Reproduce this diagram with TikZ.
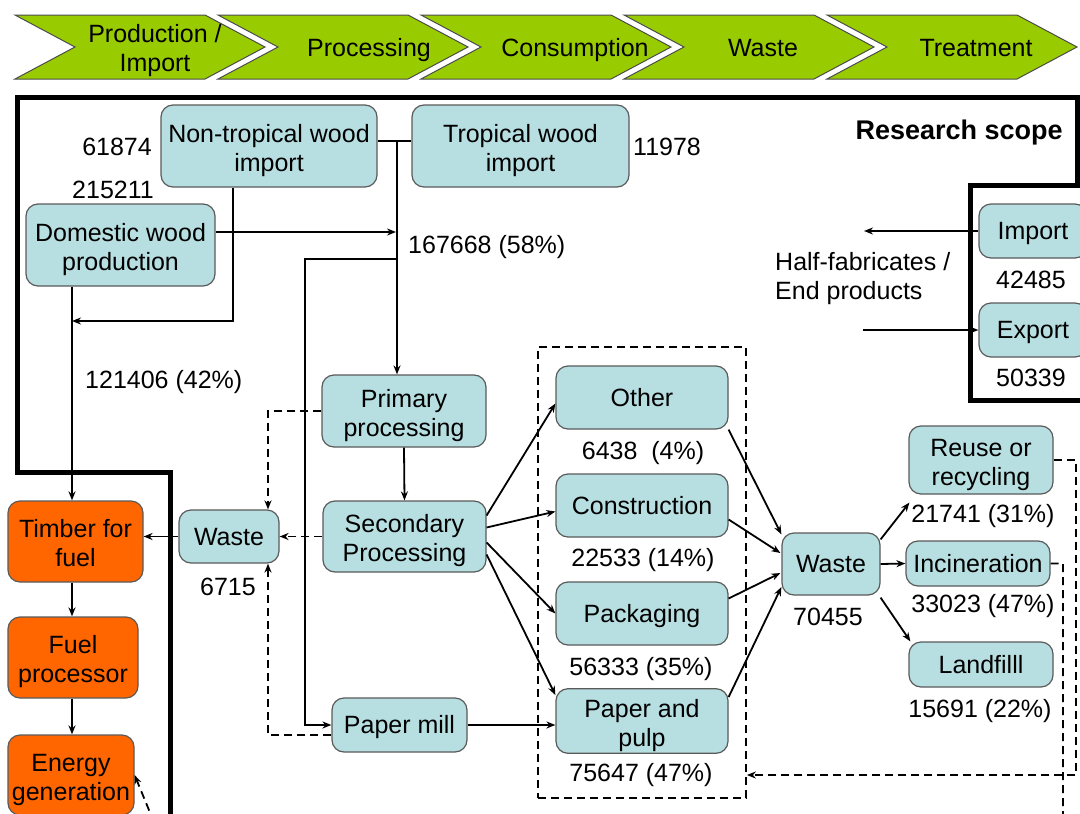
\documentclass[tikz,border=0pt]{standalone}
\usepackage{fontspec}
\setmainfont{Liberation Sans}
\usetikzlibrary{arrows.meta,calc}
\definecolor{chev}{HTML}{99CC00}
\definecolor{boxfill}{HTML}{B7DFE1}
\definecolor{fuelfill}{HTML}{FF6600}
\definecolor{boxline}{HTML}{5A5A5A}
% line box of the font: ascent 0.905em, descent 0.212em
\newcommand\linestrut{\rule[-0.212em]{0pt}{1.117em}}

\begin{document}
\begin{tikzpicture}[x=1pt,y=-1pt,
  every node/.style={font=\fontsize{25}{30}\selectfont, inner sep=2pt,
    execute at begin node=\linestrut, execute at end node=\linestrut},
  two/.style={align=center, font=\fontsize{25}{29}\selectfont, text height=55.3pt, text depth=5.3pt},
  blk/.style={draw=boxline, line width=1.2pt, rounded corners=12pt, fill=boxfill, align=center},
  fuelbox/.style={blk, fill=fuelfill},
  ln/.style={line width=1.8pt},
  arr/.style={ln, -{Stealth[length=9pt,width=7pt]}},
  darr/.style={arr, dash pattern=on 8pt off 5pt},
  scopeline/.style={line width=5pt, line join=miter},
  phase/.style={fill=chev, draw=black!70, line width=1pt}
]
\useasboundingbox (0,0) rectangle (1080,814);
\clip (0,0) rectangle (1080,814);
\fill[white] (0,0) rectangle (1080,814);

% life-cycle phases
\foreach \s in {15,218,421,624,827}
  \draw[phase] (\s,15) -- ++(190,0) -- ++(60,32) -- ++(-60,32) -- ++(-190,0) -- ++(60,-32) -- cycle;
\node[two] (ph1) at (155,46) {Production /\\Import};
\node (ph2) at (369,48) {Processing};
\node (ph3) at (575,48) {Consumption};
\node (ph4) at (763,48) {Waste};
\node (ph5) at (976,48) {Treatment};

% research scope border
\draw[scopeline] (1090,400) -- (970,400) -- (970,185) -- (1077,185) -- (1077,97) -- (17,97)
  -- (17,472) -- (170,472) -- (170,816) -- (1090,816);

% boxes
\node[blk, two, minimum width=216pt, minimum height=82pt] (ntw) at (269,146) {Non-tropical wood\\import};
\node[blk, two, minimum width=217pt, minimum height=82pt] (tw) at (520.5,146) {Tropical wood\\import};
\node[blk, two, minimum width=189pt, minimum height=82pt] (dom) at (120.5,245) {Domestic wood\\production};
\node[blk, two, minimum width=164pt, minimum height=72pt] (prim) at (404,411) {Primary\\processing};
\node[blk, two, minimum width=163pt, minimum height=71pt] (sec) at (404.5,536.5) {Secondary\\Processing};
\node[blk, minimum width=135pt, minimum height=54pt] (pmill) at (399.5,725) {Paper mill};
\node[blk, minimum width=100pt, minimum height=53pt] (wl) at (229,536.5) {Waste};
\node[fuelbox, two, minimum width=135pt, minimum height=81pt] (timber) at (75.5,541.5) {Timber for\\fuel};
\node[fuelbox, two, minimum width=130pt, minimum height=81pt] (fuel) at (73,657.5) {Fuel\\processor};
\node[fuelbox, two, minimum width=126pt, minimum height=80pt] (energy) at (71,775) {Energy\\generation};
\node[draw, ln, dash pattern=on 8pt off 5pt, minimum width=208pt, minimum height=451pt, inner sep=0pt] (cons) at (642,572.5) {};
\node[blk, minimum width=172pt, minimum height=63pt] (other) at (642,397.5) {Other};
\node[blk, minimum width=172pt, minimum height=63pt] (constr) at (642,505.5) {Construction};
\node[blk, minimum width=172pt, minimum height=63pt] (pack) at (642,613.5) {Packaging};
\node[blk, two, minimum width=172pt, minimum height=64pt] (pulp) at (642,721) {Paper and\\pulp};
\node[blk, minimum width=98pt, minimum height=62pt] (wr) at (831,564) {Waste};
\node[blk, two, minimum width=144pt, minimum height=68pt] (reuse) at (981,460) {Reuse or\\recycling};
\node[blk, minimum width=144pt, minimum height=45pt] (incin) at (978,563.5) {Incineration};
\node[blk, minimum width=144pt, minimum height=45pt] (land) at (981,664.5) {Landfilll};
\node[blk, minimum width=108pt, minimum height=54pt] (imp) at (1033,231) {Import};
\node[blk, minimum width=108pt, minimum height=54pt] (exp) at (1033,330) {Export};

% quantities
\node[anchor=east] (q1) at (154,147) {61874};
\node[anchor=east] (q2) at (156,190) {215211};
\node[anchor=west] (q3) at (631,147) {11978};
\node[anchor=west] (q4) at (406,245) {167668 (58\%)};
\node[anchor=west] (q5) at (83,380) {121406 (42\%)};
\node (q6) at (228,587) {6715};
\node (q7) at (643,451) {6438\ \ (4\%)};
\node (q8) at (643,558) {22533 (14\%)};
\node (q9) at (641,667) {56333 (35\%)};
\node (q10) at (641,773) {75647 (47\%)};
\node (q11) at (828,617) {70455};
\node (q12) at (983,514) {21741 (31\%)};
\node (q13) at (983,604) {33023 (47\%)};
\node (q14) at (980,709) {15691 (22\%)};
\node (q15) at (1031,280) {42485};
\node (q16) at (1031,378) {50339};
\node[two, anchor=west, align=left] (hf) at (773,274) {Half-fabricates /\\End products};
\node[anchor=east, font=\fontsize{27}{32}\selectfont\bfseries] (rs) at (1065,130) {Research scope};

% roundwood supply
\coordinate (jn) at (397,141);
\draw[ln] (ntw.east |- jn) -- (tw.west |- jn);
\draw[arr] (jn) -- (jn |- prim.north);
\coordinate (dj) at (396,232);
\draw[arr] (dom.east |- dj) -- (dj);
\coordinate (nd) at (233,321);
\coordinate (dd) at (72,321);
\draw[arr] (ntw.south -| nd) -- (nd) -- (dd);
\draw[arr] (dom.south -| dd) -- (timber.north -| dd);
\coordinate (pj) at (397,259);
\coordinate (pc) at (305,259);
\draw[arr] (pj) -- (pc) -- (pc |- pmill.west) -- (pmill.west);

% processing
\draw[arr] (prim.south) -- (sec.north);
\coordinate (wx) at (268,0);
\draw[darr] (prim.west) -| (wx |- wl.north);
\draw[darr] (sec.west) -- (wl.east);
\draw[darr] ($(pmill.south west)+(0,-18)$) -| (wx |- wl.south);
\draw[arr] (wl.west) -- (wl.west -| timber.east);
\draw[arr] (timber.south -| dd) -- (fuel.north -| dd);
\draw[arr] (fuel.south -| dd) -- (energy.north -| dd);

% consumption
\draw[arr] ($(sec.east)+(0,-21)$) -- ($(other.west)+(0,6)$);
\draw[arr] ($(sec.east)+(0,-9)$) -- ($(constr.west)+(0,6)$);
\draw[arr] ($(sec.east)+(0,6)$) -- (pack.west);
\draw[arr] ($(sec.east)+(0,18)$) -- ($(pulp.north west)+(0,7)$);
\draw[arr] (pmill.east) -- (pmill.east -| pulp.west);

% waste
\draw[arr] (other.south east) -- ($(wr.north west)+(0,2)$);
\draw[arr] ($(constr.east)+(0,14)$) -- ($(wr.west)+(-1,-11)$);
\draw[arr] ($(pack.east)+(0,-15)$) -- ($(wr.west)+(-1,9)$);
\draw[arr] ($(pulp.north east)+(0,9)$) -- ($(wr.west)+(0,23)$);

% treatment
\draw[arr] ($(wr.north east)+(0,7)$) -- ($(reuse.south west)+(1,8)$);
\draw[arr] (wr.east) -- (incin.west);
\draw[arr] ($(wr.south east)+(0,2)$) -- ($(land.north west)+(2,0)$);

% return flows
\coordinate (rr) at (1076,775);
\draw[darr] (reuse.east) -| (rr) -- (rr -| cons.east);
\coordinate (ib) at (1063,832);
\coordinate (eb) at (158,832);
\draw[darr] (incin.east) -| (ib) -- (eb) -- (energy.east);

% trade
\coordinate (hf1) at (864,231);
\coordinate (hf2) at (863,330);
\draw[arr] (imp.west) -- (hf1);
\draw[arr] (hf2) -- (exp.west);
\end{tikzpicture}
\end{document}
